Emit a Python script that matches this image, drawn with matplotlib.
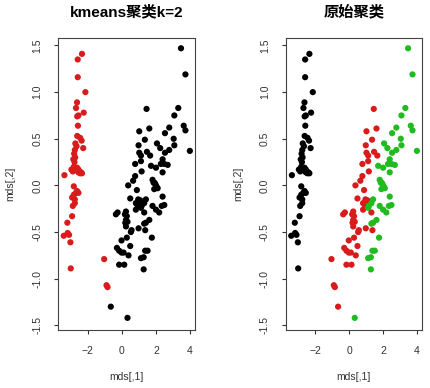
import matplotlib
matplotlib.use("Agg")
import matplotlib.pyplot as plt
import pandas as pd

plt.rcParams['font.family'] = ['Liberation Sans', 'Noto Sans CJK SC', 'DejaVu Sans']

# mds coordinates, grouped by species
setosa_x = [-2.34, -2.59, -2.59, -2.14, -2.63, -2.69, -2.24, -2.55, -2.62, -2.58,
            -2.62, -2.45, -2.36, -2.27, -2.73, -2.66, -2.76, -2.80, -2.74, -2.85,
            -2.78, -2.82, -2.70, -2.62, -2.55, -2.45, -2.88, -3.37, -2.96, -2.63,
            -2.55, -2.49, -2.34, -2.40, -2.82, -2.63, -2.70, -2.82, -2.55, -2.92,
            -2.76, -2.76, -2.88, -2.92, -3.20, -3.41, -3.18, -3.10, -3.02, -3.00]
setosa_y = [1.41, 1.35, 1.16, 1.00, 0.89, 0.83, 0.78, 0.75, 0.74, 0.64,
            0.53, 0.51, 0.48, 0.40, 0.45, 0.42, 0.38, 0.34, 0.30, 0.28,
            0.25, 0.20, 0.18, 0.16, 0.14, 0.13, 0.15, 0.11, 0.17, 0.19,
            0.17, 0.15, 0.13, 0.14, -0.01, -0.06, -0.08, -0.10, -0.08, -0.13,
            -0.15, -0.19, -0.22, -0.33, -0.40, -0.54, -0.51, -0.53, -0.61, -0.89]

versicolor_x = [1.45, 1.02, 1.61, 1.35, 0.98, 1.47, 1.02, 1.12, 1.66, 0.78,
                1.12, 1.16, 0.78, 0.66, 0.37, 0.88, 0.49, 0.96, 1.08, 0.82,
                0.92, 0.82, 1.31, -0.25, -0.35, 0.24, 0.29, 0.24, 0.18, 0.33,
                0.20, 0.24, 0.57, 0.53, 0.98, 1.37, -0.02, 0.29, 0.49, -0.29,
                -0.16, -0.02, 0.10, 0.39, -1.04, -0.16, 0.14, -0.90, -0.84, -0.65]
versicolor_y = [0.82, 0.58, 0.61, 0.49, 0.43, 0.36, 0.35, 0.32, 0.32, 0.23,
                0.26, 0.15, 0.10, 0.05, 0.00, -0.05, -0.14, -0.15, -0.16, -0.19,
                -0.21, -0.26, -0.29, -0.29, -0.31, -0.28, -0.33, -0.37, -0.31, -0.39,
                -0.40, -0.44, -0.48, -0.50, -0.46, -0.48, -0.59, -0.56, -0.65, -0.67,
                -0.70, -0.72, -0.72, -0.75, -0.79, -0.85, -0.85, -1.07, -1.09, -1.30]

virginica_x = [3.47, 3.73, 3.31, 3.08, 3.63, 3.73, 2.78, 2.53, 3.04, 3.08,
               3.99, 2.06, 2.25, 2.78, 2.53, 2.39, 1.71, 2.00, 2.29, 2.49,
               2.69, 2.39, 1.80, 1.90, 1.86, 2.00, 2.10, 1.90, 1.95, 2.05,
               2.39, 2.49, 2.34, 1.41, 1.31, 1.16, 1.12, 1.80, 2.00, 2.19,
               1.61, 1.41, 1.31, 1.76, 1.37, 1.51, 1.12, 1.28, 1.28, 0.33]
virginica_y = [1.47, 1.19, 0.83, 0.75, 0.64, 0.59, 0.62, 0.56, 0.50, 0.43,
               0.37, 0.45, 0.40, 0.38, 0.35, 0.28, 0.21, 0.19, 0.23, 0.23,
               0.22, 0.14, 0.06, 0.03, 0.03, 0.00, -0.03, -0.04, 0.02, -0.02,
               -0.12, -0.21, -0.22, -0.15, -0.19, -0.22, -0.24, -0.22, -0.26, -0.29,
               -0.37, -0.40, -0.41, -0.56, -0.70, -0.70, -0.78, -0.77, -0.90, -1.42]

# kmeans (k=2) cluster of each point
setosa_km = [1] * 50
versicolor_km = [2, 2, 2, 2, 2, 2, 2, 2, 2, 2,
                 2, 2, 2, 2, 2, 2, 2, 2, 2, 2,
                 2, 2, 2, 2, 2, 2, 2, 2, 2, 2,
                 2, 2, 2, 2, 2, 2, 2, 2, 2, 2,
                 2, 2, 2, 2, 1, 2, 2, 1, 1, 2]
virginica_km = [2] * 50

df = pd.DataFrame({
    "x": setosa_x + versicolor_x + virginica_x,
    "y": setosa_y + versicolor_y + virginica_y,
    "species": ["setosa"] * 50 + ["versicolor"] * 50 + ["virginica"] * 50,
    "km": setosa_km + versicolor_km + virginica_km,
})

RED = "#d81c1c"
GREEN = "#1fbb1f"
km_colors = {1: RED, 2: "black"}
species_colors = {"setosa": "black", "versicolor": RED, "virginica": GREEN}

fig = plt.figure(figsize=(4.30, 3.88), dpi=100)
ax1 = fig.add_axes([0.136, 0.1495, 0.317, 0.7525])
ax2 = fig.add_axes([0.665, 0.1495, 0.316, 0.7525])


def draw_panel(ax, colors, title):
    ax.scatter(df["x"], df["y"], c=colors, s=20, linewidths=0)
    ax.set_xlim(-3.72, 4.28)
    ax.set_ylim(-1.55, 1.58)
    ax.set_xticks([-2, 0, 2, 4])
    yt = [-1.5, -1.0, -0.5, 0.0, 0.5, 1.0, 1.5]
    ax.set_yticks(yt)
    ax.set_yticklabels([f"{v:.1f}" for v in yt], rotation=90, va="center")
    ax.tick_params(direction="out", length=3, width=0.8, pad=8.5,
                   labelsize=7.5, color="#333333", labelcolor="#333333")
    for sp in ax.spines.values():
        sp.set_linewidth(0.8)
        sp.set_color("#444444")
    ax.set_xlabel("mds[,1]", fontsize=7.5, color="#333333", va="center")
    ax.xaxis.set_label_coords(0.5, -0.16)
    ax.set_ylabel("mds[,2]", fontsize=7.5, color="#333333", va="center")
    ax.yaxis.set_label_coords(-0.354, 0.5)
    pos = ax.get_position()
    fig.text((pos.x0 + pos.x1) / 2, 0.968, title, ha="center", va="center",
             fontsize=11, fontweight="bold",
             family=["Liberation Sans", "Noto Sans CJK SC"])


draw_panel(ax1, df["km"].map(km_colors), "kmeans聚类k=2")
draw_panel(ax2, df["species"].map(species_colors), "原始聚类")

fig.savefig("out.png", dpi=100)
